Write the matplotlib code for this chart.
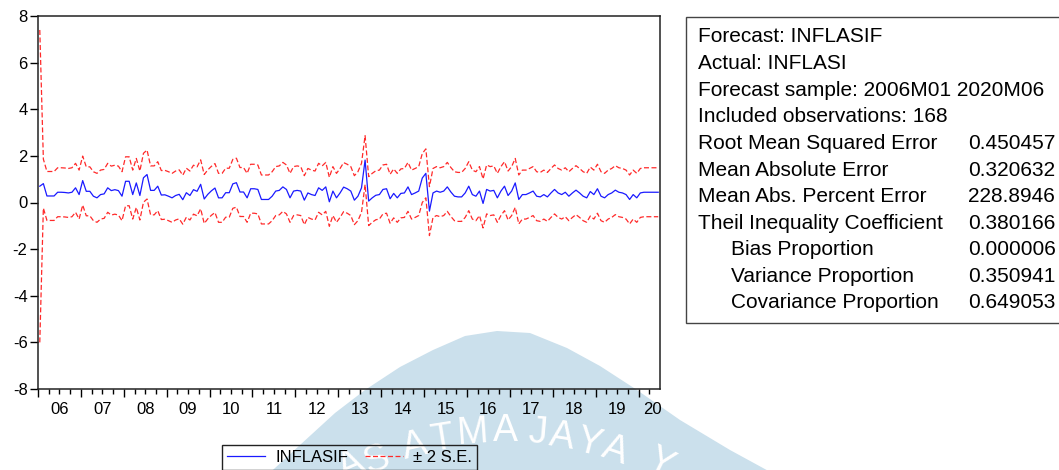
import numpy as np
import matplotlib
matplotlib.use("Agg")
import matplotlib.pyplot as plt
from matplotlib.lines import Line2D
from matplotlib.patches import Rectangle, Polygon

plt.rcParams['font.family'] = ['Liberation Sans', 'DejaVu Sans']

# forecast INFLASIF, monthly 2006M01 .. 2020M06
forecast = [
    0.70, 0.81, 0.28, 0.28, 0.28, 0.44, 0.44, 0.43, 0.41, 0.44,
    0.63, 0.34, 0.94, 0.48, 0.48, 0.27, 0.20, 0.34, 0.37, 0.63,
    0.51, 0.55, 0.51, 0.27, 0.91, 0.91, 0.34, 0.84, 0.30, 1.06,
    1.20, 0.52, 0.52, 0.70, 0.32, 0.33, 0.27, 0.20, 0.30, 0.35,
    0.12, 0.42, 0.30, 0.55, 0.48, 0.78, 0.15, 0.35, 0.50, 0.62,
    0.20, 0.20, 0.42, 0.42, 0.80, 0.85, 0.45, 0.45, 0.20, 0.59,
    0.59, 0.56, 0.13, 0.13, 0.13, 0.27, 0.49, 0.52, 0.67, 0.56,
    0.20, 0.49, 0.52, 0.49, 0.10, 0.41, 0.34, 0.30, 0.63, 0.52,
    0.67, 0.03, 0.49, 0.20, 0.41, 0.66, 0.59, 0.49, 0.10, 0.27,
    0.63, 1.82, 0.06, 0.20, 0.31, 0.34, 0.56, 0.59, 0.16, 0.39,
    0.20, 0.39, 0.41, 0.67, 0.34, 0.41, 0.49, 1.05, 1.25, -0.37,
    0.41, 0.49, 0.44, 0.49, 0.67, 0.45, 0.27, 0.24, 0.24, 0.41,
    0.70, 0.34, 0.27, 0.49, -0.04, 0.56, 0.49, 0.52, 0.20, 0.49,
    0.70, 0.30, 0.49, 0.84, 0.13, 0.34, 0.34, 0.41, 0.49, 0.27,
    0.24, 0.34, 0.24, 0.41, 0.56, 0.41, 0.34, 0.44, 0.27, 0.41,
    0.53, 0.41, 0.27, 0.20, 0.47, 0.34, 0.59, 0.27, 0.20, 0.34,
    0.41, 0.53, 0.44, 0.41, 0.34, 0.13, 0.34, 0.20, 0.41, 0.44,
    0.44, 0.44, 0.44, 0.44,
]
# two standard errors (first observation has a much wider band)
two_se = np.full(len(forecast), 1.05)
two_se[0] = 6.70

years = ['06', '07', '08', '09', '10', '11', '12', '13', '14', '15',
         '16', '17', '18', '19', '20']

stats_labels = ['Root Mean Squared Error', 'Mean Absolute Error',
                'Mean Abs. Percent Error', 'Theil Inequality Coefficient',
                'Bias Proportion', 'Variance Proportion', 'Covariance Proportion']
stats_values = ['0.450457', '0.320632', '228.8946', '0.380166',
                '0.000006', '0.350941', '0.649053']

W, H = 1059, 470
fig = plt.figure(figsize=(W / 100, H / 100), dpi=100)


def fx(px):
    return px / W


def fy(py):
    return 1 - py / H


# faint watermark in the background
hump = [(262, 480), (300, 445), (335, 413), (365, 390), (400, 367), (433, 350),
        (465, 336), (497, 331), (530, 333), (567, 348), (600, 366), (637, 390),
        (680, 420), (730, 450), (785, 480)]
fig.patches.append(Polygon([(fx(a), fy(b)) for a, b in hump], closed=True,
                           transform=fig.transFigure, facecolor='#cbe0ec',
                           edgecolor='none', zorder=-5))
wm = [('A', 351, 466, 24), ('S', 377, 460, 20), ('A', 415, 446, 13), ('T', 442, 439, 9),
      ('M', 473, 433, 4), ('A', 505, 431, 0), ('J', 538, 433, -5), ('A', 562, 437, -9),
      ('Y', 589, 443, -14), ('A', 615, 451, -19), ('Y', 660, 463, -26)]
for ch, px, py, rot in wm:
    fig.text(fx(px), fy(py), ch, fontsize=27, color='white', rotation=rot,
             ha='center', va='center', zorder=-4)

ax = fig.add_axes([fx(38), fy(389), fx(622), 373 / H])
ax.set_facecolor('none')

x = np.arange(len(forecast))
f = np.array(forecast)
ax.plot(x, f, color='#1a1aff', lw=0.9)
ax.plot(x, f + two_se, color='#ff2a2a', lw=0.9, dashes=(4, 2))
ax.plot(x, f - two_se, color='#ff2a2a', lw=0.9, dashes=(4, 2))

ax.set_xlim(-0.5, len(forecast) - 0.5)
ax.set_ylim(-8, 8)
ax.set_yticks(np.arange(-8, 9, 2))
ax.set_yticklabels([str(v) for v in range(-8, 9, 2)])

major = np.arange(0, len(forecast), 12) - 0.5
minor = np.arange(0, len(forecast), 3) - 0.5
ax.set_xticks(major)
ax.set_xticks(minor, minor=True)
ax.set_xticklabels([])
ax.tick_params(axis='x', which='major', length=6, width=1, direction='out')
ax.tick_params(axis='x', which='minor', length=3.5, width=1, direction='out')
ax.tick_params(axis='y', length=5.5, width=1, direction='out', pad=2, labelsize=12)
for i, yr in enumerate(years):
    cx = i * 12 + 5.5 if i < len(years) - 1 else 171.5
    ax.text(cx, -0.036, yr, transform=ax.get_xaxis_transform(), ha='center',
            va='top', fontsize=12)
for s in ax.spines.values():
    s.set_linewidth(1.1)
    s.set_color('#222222')

# legend under the plot
handles = [Line2D([], [], color='#1a1aff', lw=0.9),
           Line2D([], [], color='#ff2a2a', lw=0.9, dashes=(4, 2))]
leg = fig.legend(handles, ['INFLASIF', '\u00b1 2 S.E.'], loc='upper left',
                 bbox_to_anchor=(fx(222), fy(445)), ncol=2, fontsize=12,
                 frameon=True, fancybox=False, edgecolor='#222222',
                 handlelength=2.3, handletextpad=0.6, columnspacing=1.0,
                 borderpad=0.3, borderaxespad=0)
leg.get_frame().set_facecolor('none')
leg.get_frame().set_alpha(None)
leg.get_frame().set_linewidth(1.0)

# statistics box
fig.patches.append(Rectangle((fx(686), fy(323)), fx(400), 306 / H,
                             transform=fig.transFigure, facecolor='white',
                             edgecolor='#444444', lw=1.0, zorder=1))
header = ['Forecast: INFLASIF', 'Actual: INFLASI',
          'Forecast sample: 2006M01 2020M06', 'Included observations: 168']
row_y = 37
for line in header:
    fig.text(fx(698), fy(row_y), line, fontsize=15, va='center', ha='left', zorder=2)
    row_y += 26.6
for j, (lab, val) in enumerate(zip(stats_labels, stats_values)):
    indent = 731 if j >= 4 else 698
    fig.text(fx(indent), fy(row_y), lab, fontsize=15, va='center', ha='left', zorder=2)
    fig.text(fx(968), fy(row_y), val, fontsize=15, va='center', ha='left', zorder=2)
    row_y += 26.6

fig.savefig('out.png', dpi=100)
